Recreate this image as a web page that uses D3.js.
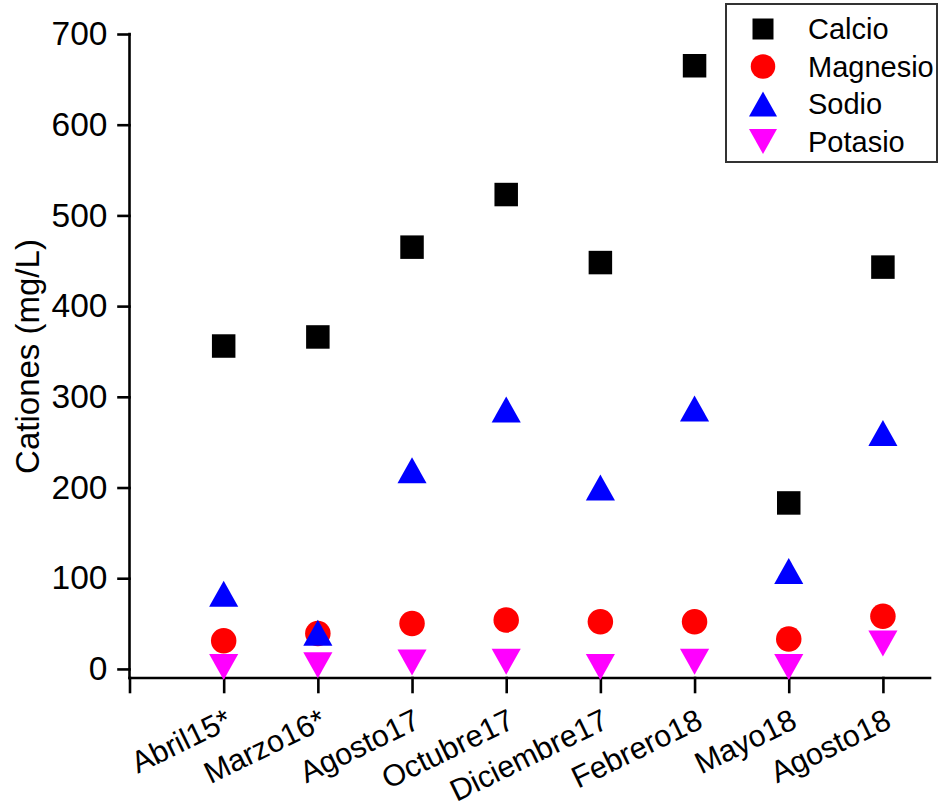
<!DOCTYPE html>
<html>
<head>
<meta charset="utf-8">
<script src="https://cdn.jsdelivr.net/npm/d3@7"></script>
<style>
  html, body { margin: 0; padding: 0; background: #fff; }
  svg { display: block; }
  text { font-family: "Liberation Sans", Arial, sans-serif; fill: #000; }
</style>
</head>
<body>
<script>
// Sampling campaigns (x categories)
const categories = ["Abril15*", "Marzo16*", "Agosto17", "Octubre17", "Diciembre17", "Febrero18", "Mayo18", "Agosto18"];

// Cation concentrations, mg/L
const calcio   = [356, 366, 465, 523, 448, 665, 183, 443];
const magnesio = [31, 39, 50, 54, 52, 52, 33, 58];
const sodio    = [83, 40, 219, 286, 200, 287, 108, 260];
const potasio  = [2, 4, 7, 8, 2, 8, 2, 28];

// Y axis ticks
const yTicks = [0, 100, 200, 300, 400, 500, 600, 700];

const seriesNames = ["Calcio", "Magnesio", "Sodio", "Potasio"];

const W = 939, H = 807;
const svg = d3.select("body").append("svg").attr("width", W).attr("height", H);

const x = d3.scaleLinear().domain([0, 8.5]).range([129.5, 930]);
const y = d3.scaleLinear().domain([-10, 700]).range([678, 34]);

// Marker shapes, each centred on its bounding box
const shapes = {
  square: s => { const h = s / 2; return `M${-h},${-h}H${h}V${h}H${-h}Z`; },
  circle: s => { const r = s / 2; return `M${r},0A${r},${r} 0 1,1 ${-r},0A${r},${r} 0 1,1 ${r},0Z`; },
  up:     s => { const w = s * 1.12 / 2, h = s / 2; return `M0,${-h}L${w},${h}L${-w},${h}Z`; },
  down:   s => { const w = s * 1.12 / 2, h = s / 2; return `M0,${h}L${w},${-h}L${-w},${-h}Z`; }
};

const series = [
  { name: seriesNames[0], values: calcio,   shape: "square", size: 23.5, color: "#000000" },
  { name: seriesNames[1], values: magnesio, shape: "circle", size: 25.5, color: "#ff0000" },
  { name: seriesNames[2], values: sodio,    shape: "up",     size: 26,   color: "#0000ff" },
  { name: seriesNames[3], values: potasio,  shape: "down",   size: 26,   color: "#ff00ff" }
];

// Axes
const axisW = 2.6;
const yAxis = svg.append("g").attr("transform", `translate(${x(0)},0)`)
  .call(d3.axisLeft(y).tickValues(yTicks).tickSize(11).tickPadding(11).tickFormat(d3.format("d")));
yAxis.select(".domain").attr("d", `M0,${y(700)}V${y(-10)}`);

const xAxis = svg.append("g").attr("transform", `translate(0,${y(-10)})`)
  .call(d3.axisBottom(x).tickValues(d3.range(0, 9)).tickSize(14).tickFormat(""));
xAxis.select(".domain").attr("d", `M${x(0)},0H${x(8.5)}`);

svg.selectAll(".domain, .tick line")
  .attr("stroke", "#000").attr("stroke-width", axisW).attr("stroke-linecap", "square");
yAxis.selectAll(".tick text")
  .style("font-family", "'Liberation Sans', Arial, sans-serif")
  .style("font-size", "33.5px").attr("fill", "#000");

// Rotated category labels
svg.append("g").selectAll("text").data(categories).join("text")
  .attr("transform", (d, i) => `translate(${x(i + 1) + 10},${y(-10) + 49}) rotate(-26)`)
  .attr("text-anchor", "end")
  .style("font-size", "30.5px")
  .text(d => d);

// Y axis title
svg.append("text")
  .attr("transform", `translate(39,${356.5}) rotate(-90)`)
  .attr("text-anchor", "middle")
  .style("font-size", "33px")
  .text("Cationes (mg/L)");

// Data markers
series.forEach(s => {
  svg.append("g").selectAll("path").data(s.values).join("path")
    .attr("transform", (v, i) => `translate(${x(i + 1)},${y(v)})`)
    .attr("d", shapes[s.shape](s.size))
    .attr("fill", s.color);
});

// Legend
const lg = svg.append("g");
lg.append("rect").attr("x", 726).attr("y", 4).attr("width", 211).attr("height", 158)
  .attr("fill", "#fff").attr("stroke", "#333").attr("stroke-width", 2);
series.forEach((s, i) => {
  const cy = 29 + i * 37.5;
  lg.append("path")
    .attr("transform", `translate(763,${cy})`)
    .attr("d", shapes[s.shape](s.shape === "square" ? 21 : s.size - 1))
    .attr("fill", s.color);
  lg.append("text").attr("x", 808).attr("y", cy + 10)
    .style("font-size", "29px").text(s.name);
});
</script>
</body>
</html>
